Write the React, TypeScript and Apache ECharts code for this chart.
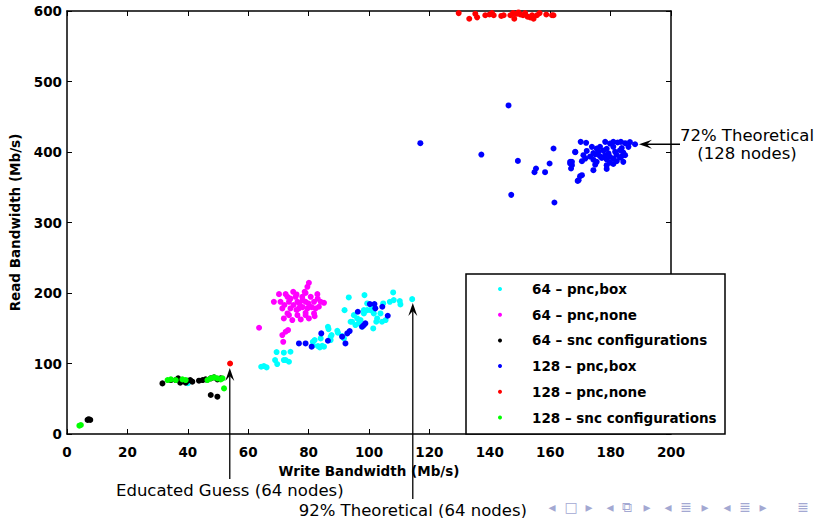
import React, { useEffect, useRef } from "react";
import * as echarts from "echarts";

// ---------- data (Write Bandwidth Mb/s, Read Bandwidth Mb/s) ----------
const seriesNames = [
  "64 – pnc,box",
  "64 – pnc,none",
  "64 – snc configurations",
  "128 – pnc,box",
  "128 – pnc,none",
  "128 – snc configurations",
];
const seriesColors = ["#00ffff", "#ff00ff", "#000000", "#0000ff", "#ff0000", "#00ff00"];

const cyan64PncBox = [
  [65.2, 96.4], [66.1, 94.5], [64.3, 95.4], [68.9, 104.9], [69.6, 99.2], [71.8, 104.9], [71.8, 115.3],
  [69.4, 116.2], [74.0, 116.7], [73.5, 102.5], [72.4, 104.9], [81.4, 130.8], [82.0, 133.2], [83.1, 124.7],
  [83.7, 122.8], [81.5, 125.6], [85.1, 123.8], [84.0, 135.6], [84.5, 125.2], [87.3, 137.9], [86.6, 148.8],
  [86.4, 152.1], [89.5, 146.4], [89.7, 143.6], [91.1, 138.9], [91.7, 135.6], [87.3, 133.2], [87.6, 140.3],
  [91.9, 175.7], [93.3, 193.7], [93.9, 159.2], [94.4, 159.2], [95.0, 168.6], [96.1, 163.9], [95.5, 154.5],
  [96.6, 156.8], [97.2, 161.6], [97.7, 152.1], [98.3, 171], [98.5, 197], [99.4, 185.2], [100.5, 175.7],
  [101.0, 180.5], [101.6, 171], [101.4, 149.7], [102.4, 159.2], [102.7, 163.9], [103.8, 171], [104.3, 159.2],
  [104.7, 185.2], [105.5, 161.6], [106.9, 187.5], [108.0, 200.8], [108.2, 189.9], [110.2, 188.5],
  [110.4, 183.8], [114.3, 191.3], [99.4, 175.7], [98.3, 175.7], [40.0, 72.0],
];

const magenta64PncNone = [
  [63.6, 150.7], [71.6, 130.8], [71.3, 140.3], [72.4, 145], [73.2, 147.4], [80.1, 214.5], [79.6, 208.8],
  [74.9, 201.7], [78.7, 201.7], [70.2, 198.4], [72.4, 198.4], [82.9, 198.4], [68.5, 187.5], [70.7, 187.5],
  [73.5, 187.5], [76.3, 187.5], [79.0, 187.5], [81.8, 187.5], [84.0, 187.5], [85.1, 186.1], [71.3, 178.1],
  [74.0, 178.1], [76.8, 178.1], [79.6, 178.1], [82.3, 178.1], [73.5, 168.6], [76.3, 168.6], [79.0, 168.6],
  [81.8, 171], [71.8, 163.9], [74.6, 161.6], [77.4, 162.5], [80.1, 163.9], [75.7, 194.6], [77.9, 194.6],
  [80.7, 194.6], [83.4, 180.5], [73.0, 194.6], [77.0, 185], [75.0, 183], [78.0, 190], [80.0, 185],
  [76.0, 176], [79.0, 172], [74.0, 192], [81.0, 180], [78.0, 180], [72.0, 183], [83.0, 192], [79.0, 200],
  [76.0, 198], [73.0, 171], [82.0, 167],
];

const black64Snc = [
  [6.8, 19.9], [7.7, 19.9], [7.2, 21.0], [31.6, 71.8], [34.4, 76.5], [36.0, 76.5], [36.8, 78.9], [37.5, 72.8],
  [39.3, 72.8], [39.9, 75.6], [40.8, 76.5], [41.5, 74.2], [43.7, 75.6], [44.9, 76.5], [45.9, 77.5],
  [47.6, 78.9], [48.7, 80.3], [49.8, 77.5], [50.9, 78.9], [47.6, 55.3], [49.8, 52.9],
];

const blue128PncBox = [
  // main cluster
  [170.1, 414.4], [171.9, 413.0], [178.2, 414.4], [179.8, 412.0], [180.9, 414.4], [182.3, 413.5],
  [183.4, 414.4], [184.8, 412.5], [186.4, 414.0], [188.1, 411.0],
  [173.8, 407.3], [175.4, 405.0], [176.5, 407.3], [178.7, 404.5], [180.9, 407.3], [183.7, 405.5], [185.9, 407.3],
  [168.3, 400.2], [172.1, 401.5], [174.3, 398.5], [176.0, 400.2], [177.6, 402.0], [179.3, 398.0],
  [181.5, 400.2], [183.1, 402.5], [184.2, 399.0],
  [171.0, 395.5], [173.2, 393.5], [174.9, 396.5], [176.5, 394.0], [178.2, 395.5], [179.8, 393.0],
  [182.0, 396.0], [183.7, 394.0], [184.8, 395.5],
  [171.6, 390.7], [174.3, 389.0], [177.1, 391.5], [178.7, 389.5], [180.9, 390.7], [183.1, 392.0],
  [166.6, 386.0], [170.5, 387.0], [175.4, 386.0], [179.8, 385.0], [182.0, 387.0], [184.2, 386.0],
  [167.2, 381.3], [174.9, 382.0], [178.7, 381.3], [180.9, 383.0],
  [174.3, 374.2], [178.7, 376.0], [170.5, 367.1], [169.4, 360.0],
  // scattered
  [117.0, 412.5], [146.2, 466.0], [137.2, 396.4], [149.3, 387.4], [161.1, 405.0], [168.3, 399.7],
  [159.8, 383.7], [155.3, 376.6], [154.8, 371.4], [158.3, 371.4], [166.6, 383.7], [167.2, 386.0],
  [166.9, 376.6], [169.9, 365.7], [169.1, 359.0], [147.1, 339.2], [161.4, 328.4],
  // low region
  [76.8, 128.5], [79.0, 128.5], [81.0, 123.8], [84.2, 142.7], [86.4, 132.3], [92.2, 128.5], [91.1, 138.0],
  [92.8, 142.7], [93.6, 146.0], [96.3, 173.4], [97.7, 152.1], [98.3, 154.5], [98.8, 156.9], [100.3, 184.3],
  [101.8, 184.3], [102.1, 178.2], [104.4, 180.5], [106.2, 167.7],
];

const red128PncNone = [
  [129.7, 597], [133.2, 589], [135.2, 596], [135.8, 591], [138.5, 594], [139.9, 595], [140.7, 597],
  [141.3, 594], [143.8, 593], [144.6, 594], [146.8, 594], [147.7, 597], [148.1, 589], [148.8, 596],
  [149.5, 598], [150.1, 595], [151.0, 594], [151.7, 597], [152.5, 592], [153.4, 591], [154.0, 594],
  [154.5, 589], [155.6, 594], [156.5, 597], [158.7, 595], [160.6, 594], [161.1, 594], [54.0, 100],
];

const green128Snc = [
  [4.1, 11.8], [4.6, 12.8], [33.3, 76.5], [34.4, 77.5], [36.0, 76.5], [38.2, 77.5], [39.3, 76.5],
  [46.5, 76.5], [47.6, 78.9], [48.7, 80.3], [49.8, 78.9], [50.9, 77.5], [51.5, 78.9], [52.0, 64.7],
];

const seriesData = [cyan64PncBox, magenta64PncNone, black64Snc, blue128PncBox, red128PncNone, green128Snc];

// annotation arrows: tip in data coordinates
const annotations = [
  { lines: ["72% Theoretical", "(128 nodes)"], tip: [189.4, 411], dir: "left" },
  { lines: ["Educated Guess (64 nodes)"], tip: [53.9, 93.5], dir: "up" },
  { lines: ["92% Theoretical (64 nodes)"], tip: [114.5, 185.7], dir: "up" },
];

const navSymbols = ["◂", "□", "▸", "◂", "⧉", "▸", "◂", "≣", "▸", "◂", "≣", "▸", "≣"];

const BOLD = "DejaVu Sans";

export default function App() {
  const ref = useRef<HTMLDivElement>(null);
  useEffect(() => {
    const chart = echarts.init(ref.current!, null, { renderer: "svg" });
    const axisLine = { show: true, onZero: false, lineStyle: { color: "#000", width: 1.5 } };
    const axisTick = { show: true, inside: true, length: 5, lineStyle: { color: "#000", width: 1 } };
    const labelStyle = { color: "#000", fontFamily: BOLD, fontWeight: "bold", fontSize: 13.5 };
    chart.setOption({
      animation: false,
      backgroundColor: "#fff",
      grid: { left: 66, top: 11, width: 605, height: 423, containLabel: false },
      xAxis: [
        {
          type: "value", min: 0, max: 200, interval: 20, position: "bottom",
          axisLine, axisTick, splitLine: { show: false },
          axisLabel: { ...labelStyle, margin: 11 },
          name: "Write Bandwidth (Mb/s)", nameLocation: "middle", nameGap: 30,
          nameTextStyle: { ...labelStyle },
        },
        {
          type: "value", min: 0, max: 200, interval: 20, position: "top",
          axisLine, axisTick, splitLine: { show: false }, axisLabel: { show: false },
        },
      ],
      yAxis: [
        {
          type: "value", min: 0, max: 600, interval: 100, position: "left",
          axisLine, axisTick, splitLine: { show: false },
          axisLabel: { ...labelStyle, margin: 5 },
          name: "Read Bandwidth (Mb/s)", nameLocation: "middle", nameGap: 45,
          nameTextStyle: { ...labelStyle },
        },
        {
          type: "value", min: 0, max: 600, interval: 100, position: "right",
          axisLine, axisTick, splitLine: { show: false }, axisLabel: { show: false },
        },
      ],
      legend: {
        orient: "vertical", left: 498, top: 281, itemGap: 9.7, itemWidth: 54, itemHeight: 4,
        icon: "circle", padding: 0, z: 10, selectedMode: false,
        data: seriesNames,
        textStyle: { ...labelStyle, lineHeight: 16 },
      },
      series: seriesNames.map((name, i) => ({
        type: "scatter", name, data: seriesData[i], symbolSize: 6,
        xAxisIndex: 0, yAxisIndex: 0,
        itemStyle: { color: seriesColors[i], opacity: 1 },
      })),
    });

    const graphics: any[] = [
      {
        type: "rect", z: 5, shape: { x: 466, y: 274, width: 259, height: 160 },
        style: { fill: "#fff", stroke: "#000", lineWidth: 1.5 },
      },
    ];
    const annFont = "16.5px 'DejaVu Sans'";
    const arrowHead = (tx: number, ty: number, dx: number, dy: number) => {
      const L = 13, W = 4.5, N = 0.6;
      const nx = -dy, ny = dx;
      return {
        type: "polygon", z: 20,
        shape: {
          points: [
            [tx, ty],
            [tx - L * dx + W * nx, ty - L * dy + W * ny],
            [tx - N * L * dx, ty - N * L * dy],
            [tx - L * dx - W * nx, ty - L * dy - W * ny],
          ],
        },
        style: { fill: "#000" },
      };
    };
    annotations.forEach((a, k) => {
      const p = chart.convertToPixel({ gridIndex: 0 }, a.tip) as number[];
      if (a.dir === "left") {
        const tailX = 680;
        graphics.push({ type: "line", z: 20, shape: { x1: tailX, y1: p[1], x2: p[0] + 6, y2: p[1] }, style: { stroke: "#000", lineWidth: 1.3 } });
        graphics.push(arrowHead(p[0], p[1], -1, 0));
        a.lines.forEach((t, j) => {
          graphics.push({
            type: "text", z: 20, x: 747, y: 135 + j * 18.5,
            style: { text: t, font: annFont, fill: "#000", align: "center", verticalAlign: "middle" },
          });
        });
      } else {
        const textY = k === 1 ? 490 : 510;
        const tailY = textY - 11;
        graphics.push({ type: "line", z: 20, shape: { x1: p[0], y1: tailY, x2: p[0], y2: p[1] + 6 }, style: { stroke: "#000", lineWidth: 1.3 } });
        graphics.push(arrowHead(p[0], p[1], 0, -1));
        graphics.push({
          type: "text", z: 20, x: p[0], y: textY,
          style: { text: a.lines[0], font: annFont, fill: "#000", align: "center", verticalAlign: "middle" },
        });
      }
    });
    const navX = [552, 571, 589, 610, 627, 647, 668, 686, 705, 727, 745, 763, 803];
    navSymbols.forEach((s, i) => {
      graphics.push({
        type: "text", z: 20, x: navX[i], y: 507,
        style: { text: s, font: "14px 'DejaVu Sans'", fill: "#a3a8d2", align: "center", verticalAlign: "middle" },
      });
    });
    chart.setOption({ graphic: graphics });
    return () => chart.dispose();
  }, []);
  return (
    <div
      ref={ref}
      style={{ position: "fixed", left: 0, top: 0, width: 820, height: 518, background: "#fff" }}
    />
  );
}
